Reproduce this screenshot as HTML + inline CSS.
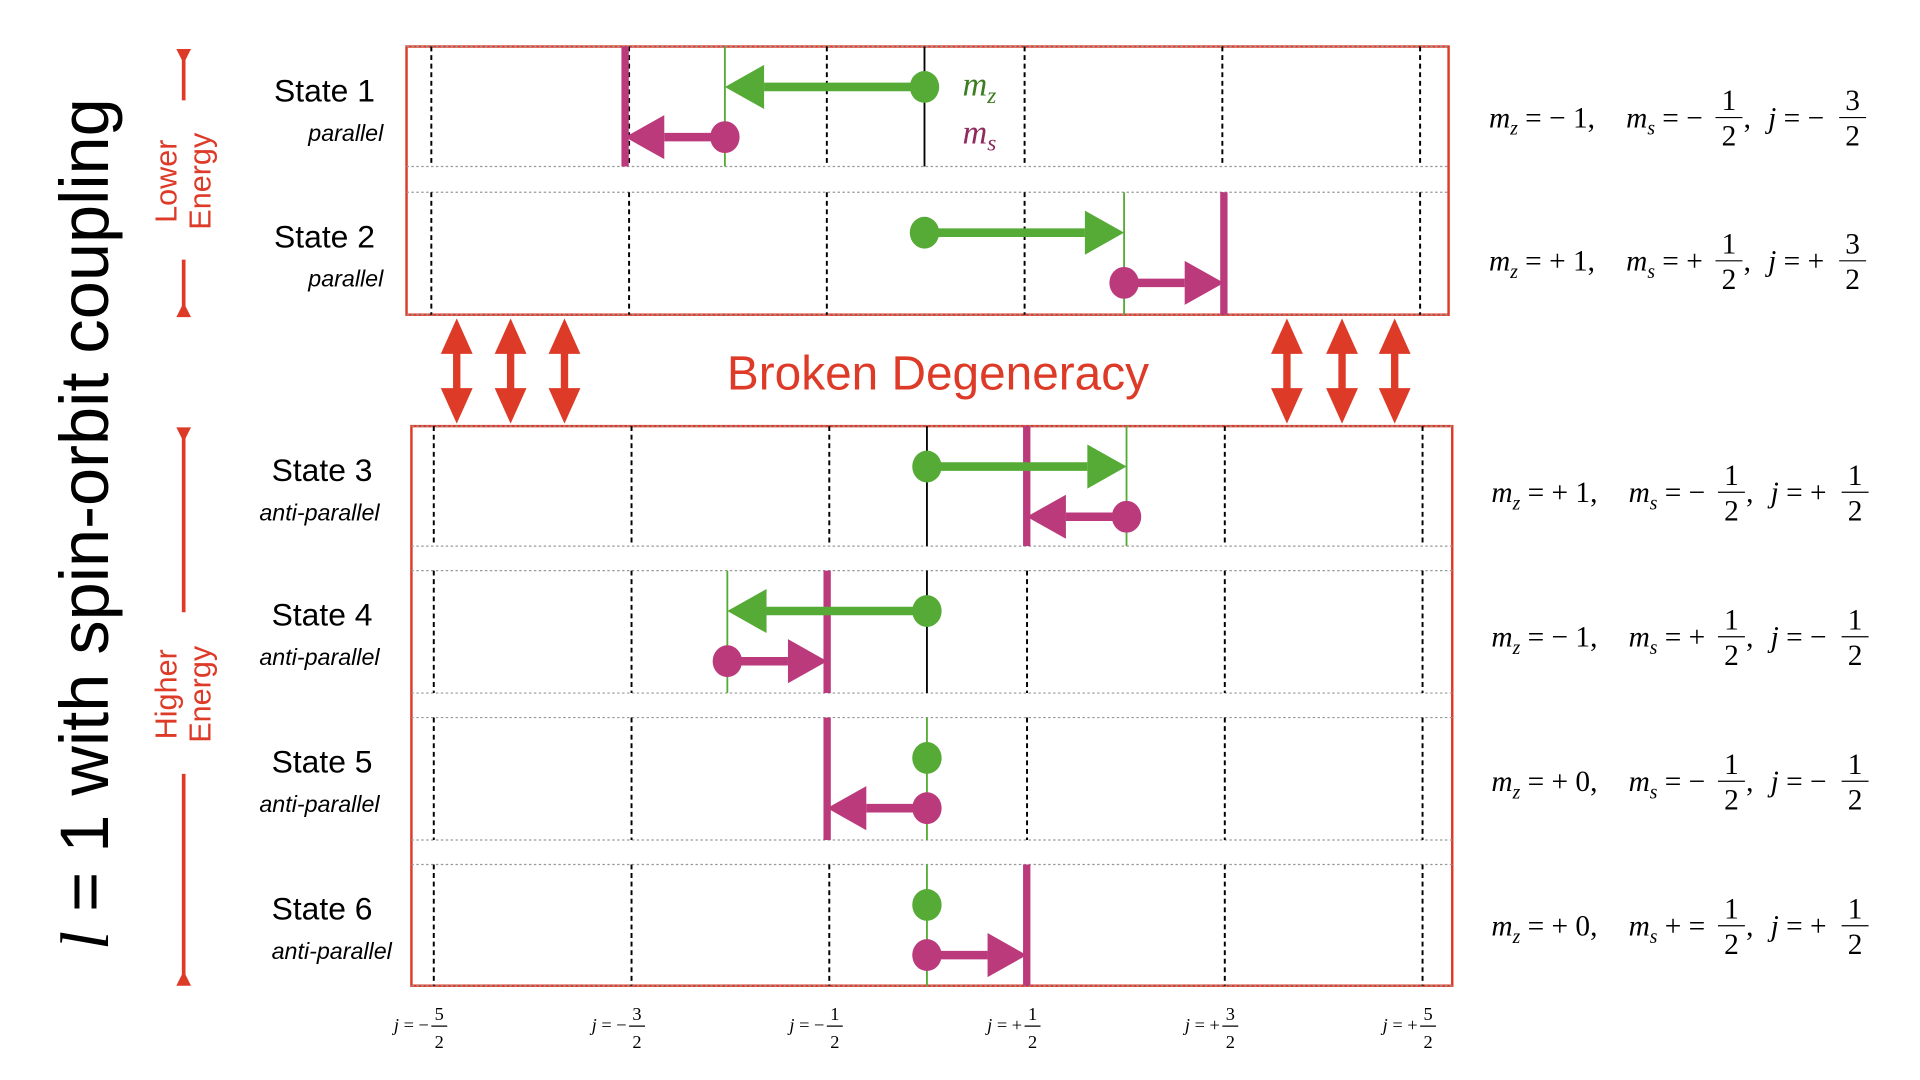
<!DOCTYPE html>
<html><head><meta charset="utf-8"><style>
html,body{margin:0;padding:0;background:#fff;width:1920px;height:1080px;overflow:hidden}
svg{display:block}
.st{font-family:"Liberation Sans",sans-serif;font-size:26px;fill:#000}
.it{font-family:"Liberation Sans",sans-serif;font-size:19px;font-style:italic;fill:#000}
.m{font-family:"Liberation Serif",serif;font-size:24px;fill:#000}
</style></head><body>
<svg id="chart" width="1920" height="1080" viewBox="0 0 1568 882" xmlns="http://www.w3.org/2000/svg">
<text transform="translate(88,428) rotate(-90)" text-anchor="middle" font-family="Liberation Sans,sans-serif" font-size="56" fill="#000"><tspan font-style="italic" font-family="Liberation Serif,serif">l</tspan> = 1 with spin-orbit coupling</text>
<g stroke="#dd3a28" stroke-width="3" fill="#dd3a28">
<line x1="150" y1="40" x2="150" y2="82"/><line x1="150" y1="212" x2="150" y2="256"/>
<polygon points="144,40 156,40 150,52" stroke="none"/><polygon points="144,259 156,259 150,247" stroke="none"/>
<line x1="150" y1="350" x2="150" y2="500"/><line x1="150" y1="632" x2="150" y2="803"/>
<polygon points="144,349 156,349 150,361" stroke="none"/><polygon points="144,805 156,805 150,793" stroke="none"/>
</g>
<text transform="translate(150,148) rotate(-90)" text-anchor="middle" font-family="Liberation Sans,sans-serif" font-size="25" fill="#dd3a28"><tspan x="0" dy="-6">Lower</tspan><tspan x="0" dy="28">Energy</tspan></text>
<text transform="translate(150,567) rotate(-90)" text-anchor="middle" font-family="Liberation Sans,sans-serif" font-size="25" fill="#dd3a28"><tspan x="0" dy="-6">Higher</tspan><tspan x="0" dy="28">Energy</tspan></text>
<text x="766" y="318" text-anchor="middle" font-family="Liberation Sans,sans-serif" font-size="39" fill="#dd3a28">Broken Degeneracy</text>
<g id="plot"></g>
</svg>
<script>
const states = ["State 1","State 2","State 3","State 4","State 5","State 6"];
const kinds = ["parallel","parallel","anti-parallel","anti-parallel","anti-parallel","anti-parallel"];
const mzValues = [-1, 1, 1, -1, 0, 0];
const msValues = [-0.5, 0.5, -0.5, 0.5, -0.5, 0.5];
const jTicks = [-2.5,-1.5,-0.5,0.5,1.5,2.5];
const jTickNum = ["5","3","1","1","3","5"];
const jTickSign = ["−","−","−","+","+","+"];
const eqMz = ["− 1","+ 1","+ 1","− 1","+ 0","+ 0"];
const eqMs = ["= −","= +","= −","= +","= −","+ ="];
const eqJNum = ["3","3","1","1","1","1"];
const eqJSign = ["−","+","+","−","−","+"];

const NS="http://www.w3.org/2000/svg";
const G="#55ab35", M="#bb3a7b", R="#dd3a28";
const plot=document.getElementById('plot');
function mk(tag,attrs,parent){const e=document.createElementNS(NS,tag);for(const k in attrs)e.setAttribute(k,attrs[k]);(parent||plot).appendChild(e);return e;}
const rowTop=[38,157,348,466,586,706], rowH=[98,100,98,100,100,99];
function boxOffset(i){return i<2?0:2;}
function xs(v,i){return 755+boxOffset(i)+v*163;}
function xj(v,i){return 756+boxOffset(i)+v*161.5;}

let b=mk('rect',{x:332,y:38,width:851,height:219,fill:'none',stroke:R,'stroke-width':2});


b=mk('rect',{x:336,y:348,width:850,height:457,fill:'none',stroke:R,'stroke-width':2});



states.forEach((s,i)=>{
  const g=mk('g',{});
  
  
  const t=rowTop[i], h=rowH[i], x0=i<2?332:336, x1=i<2?1183:1186;
  mk('line',{x1:x0,y1:t,x2:x1,y2:t,stroke:'#999','stroke-width':1,'stroke-dasharray':'2,2'},g);
  mk('line',{x1:x0,y1:t+h,x2:x1,y2:t+h,stroke:'#999','stroke-width':1,'stroke-dasharray':'2,2'},g);
  jTicks.forEach(v=>{mk('line',{x1:xj(v,i),y1:t,x2:xj(v,i),y2:t+h,stroke:'#000','stroke-width':1.6,'stroke-dasharray':'4,3'},g);});
  const mz=mzValues[i], ms=msValues[i], j=mz+ms;
  const c=xs(0,i), xm=xs(mz,i), xjj=xs(j,i);
  if(mz!==0 && i!==1) mk('line',{x1:c,y1:t,x2:c,y2:t+h,stroke:'#000','stroke-width':1.5},g);
  mk('line',{x1:xm,y1:t,x2:xm,y2:t+h,stroke:G,'stroke-width':1.5},g);
  mk('line',{x1:xjj,y1:t,x2:xjj,y2:t+h,stroke:M,'stroke-width':6},g);
  const yg=t+33, ym=t+74;
  function arrow(xa,xb,y,col,w,name){
    const ag=mk('g',{},g);
    
    
    if(xa!==xb){
      const d=Math.sign(xb-xa), hl=32, hh=18;
      mk('line',{x1:xa,y1:y,x2:xb-d*hl,y2:y,stroke:col,'stroke-width':w},ag);
      mk('polygon',{points:`${xb},${y} ${xb-d*hl},${y-hh} ${xb-d*hl},${y+hh}`,fill:col},ag);
    }
    mk('ellipse',{cx:xa,cy:y,rx:12,ry:13,fill:col},ag);
  }
  arrow(c,xm,yg,G,7,'mz-arrow-'+(i+1));
  arrow(xm,xjj,ym,M,7,'ms-arrow-'+(i+1));
  let lt=mk('text',{x:i<2?265:263,y:t+45,'text-anchor':'middle',class:'st'});
  lt.textContent=s;
  
  
  let kt=mk('text',{x:i<2?313:310,y:t+77,'text-anchor':'end',class:'it'});
  if(i===5) kt.setAttribute('x',320);
  kt.textContent=kinds[i];
  
  
  const ey=[104,221,410,528,646,764][i], ex=i<2?1216:1218;
  const eq=mk('g',{transform:`translate(${ex},${ey})`});
  
  
  const e1=mk('text',{x:0,y:0,class:'m'},eq);
  e1.innerHTML=`<tspan font-style="italic">m</tspan><tspan font-style="italic" font-size="16" dy="6">z</tspan><tspan dy="-6"> = ${eqMz[i]},</tspan>`;
  const e2=mk('text',{x:112,y:0,class:'m'},eq);
  e2.innerHTML=`<tspan font-style="italic">m</tspan><tspan font-style="italic" font-size="16" dy="6">s</tspan><tspan dy="-6"> ${eqMs[i]}</tspan>`;
  mk('line',{x1:185,y1:-8,x2:207,y2:-8,stroke:'#000','stroke-width':1},eq);
  let n=mk('text',{x:196,y:-14,'text-anchor':'middle',class:'m'},eq);n.textContent='1';
  n=mk('text',{x:196,y:15,'text-anchor':'middle',class:'m'},eq);n.textContent='2';
  n=mk('text',{x:208,y:0,class:'m'},eq);n.textContent=',';
  const e3=mk('text',{x:228,y:0,class:'m'},eq);
  e3.innerHTML=`<tspan font-style="italic">j</tspan> = ${eqJSign[i]}`;
  mk('line',{x1:286,y1:-8,x2:308,y2:-8,stroke:'#000','stroke-width':1},eq);
  n=mk('text',{x:297,y:-14,'text-anchor':'middle',class:'m'},eq);n.textContent=eqJNum[i];
  n=mk('text',{x:297,y:15,'text-anchor':'middle',class:'m'},eq);n.textContent='2';
});

let lg=mk('text',{x:786,y:78,'font-family':'Liberation Serif,serif','font-size':28,'font-style':'italic',fill:'#3c7d22'});
lg.innerHTML='m<tspan font-size="19" dy="6">z</tspan>';


lg=mk('text',{x:786,y:117,'font-family':'Liberation Serif,serif','font-size':28,'font-style':'italic',fill:'#8e2a5c'});
lg.innerHTML='m<tspan font-size="19" dy="6">s</tspan>';



[373,417,461,1051,1096,1139].forEach((x,k)=>{
  const g=mk('g',{fill:R});
  
  
  mk('rect',{x:x-3,y:282,width:6,height:42},g);
  mk('polygon',{points:`${x},260 ${x-13},289 ${x+13},289`},g);
  mk('polygon',{points:`${x},346 ${x-13},317 ${x+13},317`},g);
});

jTicks.forEach((v,k)=>{
  const x=xj(v,5);
  const g=mk('g',{transform:`translate(${x},842)`});
  
  
  const t=mk('text',{x:-4,y:0,'text-anchor':'end','font-family':'Liberation Serif,serif','font-size':15},g);
  t.innerHTML=`<tspan font-style="italic">j</tspan> = ${jTickSign[k]}`;
  mk('line',{x1:-2,y1:-4,x2:11,y2:-4,stroke:'#000','stroke-width':1},g);
  let n=mk('text',{x:4.5,y:-9,'text-anchor':'middle','font-family':'Liberation Serif,serif','font-size':15},g);n.textContent=jTickNum[k];
  n=mk('text',{x:4.5,y:14,'text-anchor':'middle','font-family':'Liberation Serif,serif','font-size':15},g);n.textContent='2';
});
</script>
</body></html>
